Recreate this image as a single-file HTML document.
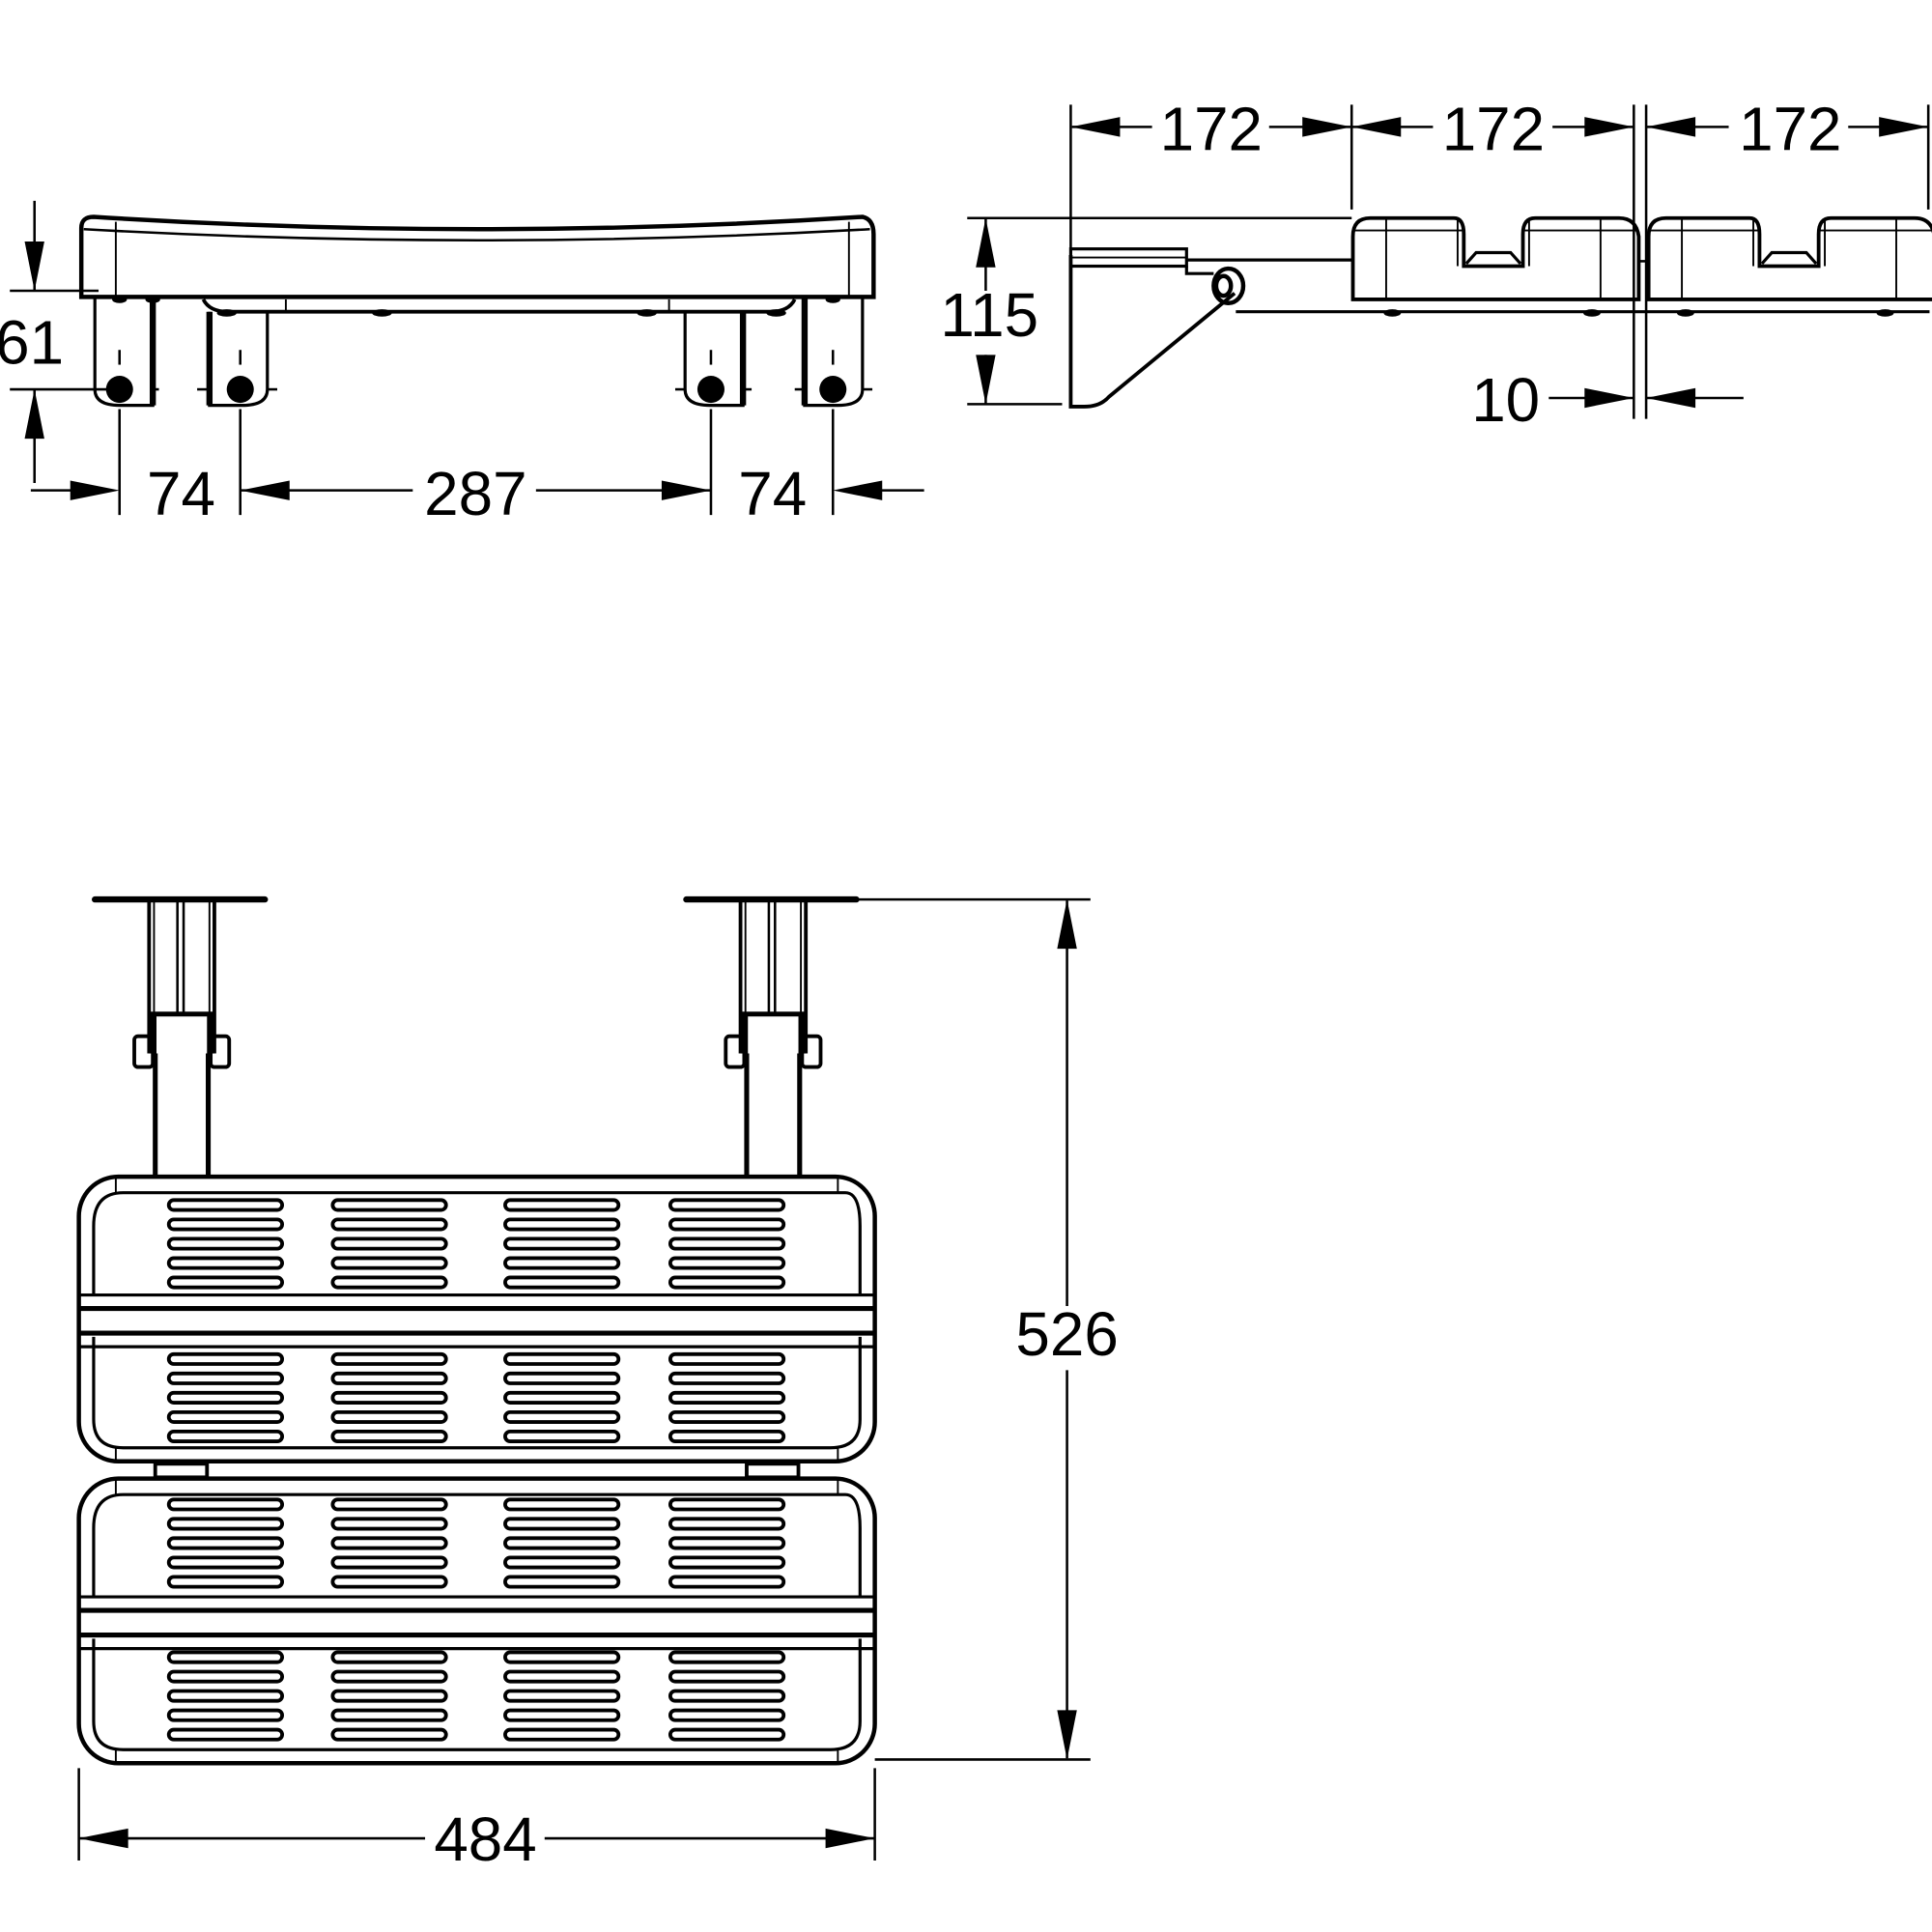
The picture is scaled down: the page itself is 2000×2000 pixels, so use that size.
<!DOCTYPE html>
<html><head><meta charset="utf-8"><style>
html,body{margin:0;padding:0;background:#fff}
svg{display:block}
text{font-family:"Liberation Sans",Arial,sans-serif;font-size:50px;fill:#000}
</style></head><body>
<svg width="2000" height="2000" viewBox="0 0 1568 1568" xmlns="http://www.w3.org/2000/svg">
<defs>
<g id="slots" fill="none" stroke="#000" stroke-width="3">
 <rect x="137" y="-4" width="92" height="8" rx="4"/>
 <rect x="270" y="-4" width="92" height="8" rx="4"/>
 <rect x="410" y="-4" width="92" height="8" rx="4"/>
 <rect x="544" y="-4" width="92" height="8" rx="4"/>
</g>
<g id="slat">
 <use href="#slots" y="0"/><use href="#slots" y="15.7"/><use href="#slots" y="31.4"/><use href="#slots" y="47.1"/><use href="#slots" y="62.8"/>
</g>
<g id="post" stroke="#000" fill="none">
 <line x1="77" y1="730" x2="215" y2="730" stroke-width="5" stroke-linecap="round"/>
 <line x1="121" y1="730" x2="121" y2="855" stroke-width="3"/>
 <line x1="174" y1="730" x2="174" y2="855" stroke-width="3"/>
 <line x1="125" y1="732" x2="125" y2="822" stroke-width="1.5"/>
 <line x1="170" y1="732" x2="170" y2="822" stroke-width="1.5"/>
 <line x1="144" y1="732" x2="144" y2="822" stroke-width="2"/>
 <line x1="149" y1="732" x2="149" y2="822" stroke-width="2"/>
 <line x1="121" y1="823" x2="174" y2="823" stroke-width="4"/>
 <rect x="121" y="823" width="6" height="32" fill="#000" stroke="none"/>
 <rect x="168" y="823" width="6" height="32" fill="#000" stroke="none"/>
 <line x1="126" y1="855" x2="126" y2="955" stroke-width="4"/>
 <line x1="169" y1="855" x2="169" y2="955" stroke-width="4"/>
 <rect x="109" y="841" width="15" height="25" rx="3" stroke-width="3"/>
 <rect x="171" y="841" width="15" height="25" rx="3" stroke-width="3"/>
</g>
<path id="ah" d="M0 0 L-40 -8 L-40 8 Z" fill="#000"/>
</defs>

<g stroke="#000" fill="none" stroke-linecap="butt">
<!-- ===== Top-left front view ===== -->
<path d="M66 185 Q66 176 76 176 Q390 196 700 176 Q709 178 709 190 L709 241 L66 241 Z" stroke-width="3.5"/>
<path d="M68 186 Q390 204 706 186" stroke-width="2"/>
<line x1="94" y1="180" x2="94" y2="241" stroke-width="1.5"/>
<line x1="689" y1="180" x2="689" y2="241" stroke-width="1.5"/>
<path d="M165 243 Q170 253 185 253 L625 253 Q640 253 645 243" stroke-width="3"/>
<line x1="232" y1="243" x2="232" y2="253" stroke-width="1.5"/>
<line x1="543" y1="243" x2="543" y2="253" stroke-width="1.5"/>
<g fill="#000" stroke="none">
<ellipse cx="97" cy="243" rx="6" ry="3"/><ellipse cx="124" cy="243" rx="6" ry="3"/>
<ellipse cx="184" cy="254" rx="8" ry="3"/><ellipse cx="310" cy="254" rx="8" ry="3"/>
<ellipse cx="525" cy="254" rx="8" ry="3"/><ellipse cx="630" cy="254" rx="8" ry="3"/>
<ellipse cx="676" cy="243" rx="6" ry="3"/>
</g>
<!-- legs -->
<path d="M77 241 L77 316 Q77 329 97 329 L124 329 L124 241" stroke-width="2.5"/>
<line x1="124" y1="241" x2="124" y2="329" stroke-width="5"/>
<path d="M217 253 L217 316 Q217 329 197 329 L170 329 L170 253" stroke-width="2.5"/>
<line x1="170" y1="253" x2="170" y2="329" stroke-width="5"/>
<path d="M556 253 L556 316 Q556 329 576 329 L603 329 L603 253" stroke-width="2.5"/>
<line x1="603" y1="253" x2="603" y2="329" stroke-width="5"/>
<path d="M700 241 L700 316 Q700 329 680 329 L653 329 L653 241" stroke-width="2.5"/>
<line x1="653" y1="241" x2="653" y2="329" stroke-width="5"/>
<g fill="#000" stroke="none">
<circle cx="97" cy="316" r="11"/><circle cx="195" cy="316" r="11"/><circle cx="577" cy="316" r="11"/><circle cx="676" cy="316" r="11"/>
</g>
<g stroke-width="2">
<line x1="97" y1="284" x2="97" y2="296"/><line x1="195" y1="284" x2="195" y2="296"/><line x1="577" y1="284" x2="577" y2="296"/><line x1="676" y1="284" x2="676" y2="296"/>
<line x1="124" y1="316" x2="129" y2="316"/><line x1="160" y1="316" x2="170" y2="316"/><line x1="217" y1="316" x2="225" y2="316"/>
<line x1="548" y1="316" x2="556" y2="316"/><line x1="603" y1="316" x2="610" y2="316"/><line x1="645" y1="316" x2="653" y2="316"/><line x1="700" y1="316" x2="708" y2="316"/>
</g>
<!-- 61 dim -->
<line x1="28" y1="163" x2="28" y2="236" stroke-width="2"/>
<line x1="8" y1="236" x2="80" y2="236" stroke-width="2"/>
<line x1="8" y1="316" x2="90" y2="316" stroke-width="2"/>
<line x1="28" y1="316" x2="28" y2="392" stroke-width="2"/>
<!-- bottom dims -->
<g stroke-width="2">
<line x1="97" y1="332" x2="97" y2="418"/><line x1="195" y1="332" x2="195" y2="418"/>
<line x1="577" y1="332" x2="577" y2="418"/><line x1="676" y1="332" x2="676" y2="418"/>
<line x1="25" y1="398" x2="60" y2="398"/>
<line x1="195" y1="398" x2="335" y2="398"/><line x1="435" y1="398" x2="577" y2="398"/>
<line x1="715" y1="398" x2="750" y2="398"/>
</g>

<!-- ===== Top-right side view ===== -->
<g stroke-width="2">
<line x1="869" y1="85" x2="869" y2="330"/>
<line x1="1097" y1="85" x2="1097" y2="170"/>
<line x1="1326" y1="85" x2="1326" y2="340"/>
<line x1="1336" y1="85" x2="1336" y2="340"/>
<line x1="1565" y1="85" x2="1565" y2="170"/>
<line x1="870" y1="103" x2="935" y2="103"/><line x1="1030" y1="103" x2="1097" y2="103"/>
<line x1="1097" y1="103" x2="1163" y2="103"/><line x1="1260" y1="103" x2="1326" y2="103"/>
<line x1="1336" y1="103" x2="1403" y2="103"/><line x1="1500" y1="103" x2="1565" y2="103"/>
<line x1="785" y1="177" x2="1097" y2="177"/>
<line x1="785" y1="328" x2="862" y2="328"/>
<line x1="800" y1="178" x2="800" y2="236"/><line x1="800" y1="288" x2="800" y2="328"/>
<line x1="1257" y1="323" x2="1326" y2="323"/><line x1="1336" y1="323" x2="1415" y2="323"/>
</g>
<!-- bracket -->
<path d="M869 207 L869 330 L880 330 Q893 330 900 322 L1002 238" stroke-width="3"/>
<rect x="869" y="202" width="94" height="14" stroke-width="2.5"/>
<line x1="869" y1="209" x2="963" y2="209" stroke-width="1.5"/>
<path d="M963 216 L963 222 L985 222" stroke-width="2.5"/>
<ellipse cx="997" cy="232" rx="12" ry="14" stroke-width="3.5"/>
<ellipse cx="993" cy="232" rx="6" ry="8" stroke-width="3.5"/>
<line x1="963" y1="211" x2="1097" y2="211" stroke-width="2.5"/>
<line x1="1003" y1="253" x2="1566" y2="253" stroke-width="2.5"/>
<!-- cushions -->
<g id="cush" stroke-width="3">
<path d="M1098 243 L1098 192 Q1098 177 1112 177 L1180 177 Q1188 177 1188 190 L1188 216 L1236 216 L1236 190 Q1236 177 1246 177 L1314 177 Q1328 177 1330 192 L1330 243 Z"/>
<line x1="1098" y1="187" x2="1188" y2="187" stroke-width="1.5"/>
<line x1="1236" y1="187" x2="1328" y2="187" stroke-width="1.5"/>
<line x1="1125" y1="177" x2="1125" y2="243" stroke-width="1.5"/>
<line x1="1299" y1="177" x2="1299" y2="243" stroke-width="1.5"/>
<line x1="1183" y1="177" x2="1183" y2="216" stroke-width="1.5"/>
<line x1="1241" y1="177" x2="1241" y2="216" stroke-width="1.5"/>
<path d="M1190 214 L1198 205 L1226 205 L1234 214" stroke-width="2.5"/>
</g>
<use href="#cush" x="240"/>
<line x1="1330" y1="212" x2="1338" y2="212" stroke-width="2"/>
<g fill="#000" stroke="none">
<ellipse cx="1130" cy="254" rx="7" ry="3"/><ellipse cx="1292" cy="254" rx="7" ry="3"/>
<ellipse cx="1368" cy="254" rx="7" ry="3"/><ellipse cx="1530" cy="254" rx="7" ry="3"/>
</g>

<!-- ===== Bottom top view ===== -->
<use href="#post"/>
<use href="#post" x="480"/>
<line x1="697" y1="730" x2="885" y2="730" stroke-width="2"/>
<line x1="710" y1="1428" x2="885" y2="1428" stroke-width="2"/>
<line x1="866" y1="1112" x2="866" y2="1427" stroke-width="2"/>
<line x1="866" y1="731" x2="866" y2="1060" stroke-width="2"/>
<line x1="64" y1="1435" x2="64" y2="1510" stroke-width="2"/>
<line x1="710" y1="1435" x2="710" y2="1510" stroke-width="2"/>
<line x1="64" y1="1492" x2="345" y2="1492" stroke-width="2"/>
<line x1="442" y1="1492" x2="710" y2="1492" stroke-width="2"/>

<!-- panel 1 -->
<g id="panel">
<rect x="64" y="955" width="646" height="231" rx="32" stroke-width="3.5"/>
<path d="M76 1052 L76 995 Q76 968 100 968 L686 968 Q698 968 698 995 L698 1052" stroke-width="2.5"/>
<path d="M76 1085 L76 1152 Q76 1175 100 1175 L674 1175 Q698 1175 698 1152 L698 1085" stroke-width="2.5"/>
<line x1="64" y1="1051" x2="710" y2="1051" stroke-width="2.5"/>
<line x1="64" y1="1062" x2="710" y2="1062" stroke-width="4"/>
<line x1="64" y1="1082" x2="710" y2="1082" stroke-width="4"/>
<line x1="64" y1="1093" x2="710" y2="1093" stroke-width="2.5"/>
<line x1="94" y1="956" x2="94" y2="968" stroke-width="1.5"/>
<line x1="680" y1="956" x2="680" y2="968" stroke-width="1.5"/>
<line x1="94" y1="1175" x2="94" y2="1186" stroke-width="1.5"/>
<line x1="680" y1="1175" x2="680" y2="1186" stroke-width="1.5"/>
</g>
<use href="#panel" y="245"/>
<rect x="126" y="1188" width="42" height="11" stroke-width="3"/>
<rect x="606" y="1188" width="42" height="11" stroke-width="3"/>
</g>
<use href="#slat" y="978"/>
<use href="#slat" y="1103"/>
<use href="#slat" y="1221"/>
<use href="#slat" y="1345"/>

<!-- arrowheads -->
<use href="#ah" transform="translate(28,236) rotate(90)"/>
<use href="#ah" transform="translate(28,316) rotate(-90)"/>
<use href="#ah" transform="translate(97,398)"/>
<use href="#ah" transform="translate(195,398) rotate(180)"/>
<use href="#ah" transform="translate(577,398)"/>
<use href="#ah" transform="translate(676,398) rotate(180)"/>
<use href="#ah" transform="translate(869,103) rotate(180)"/>
<use href="#ah" transform="translate(1097,103)"/>
<use href="#ah" transform="translate(1097,103) rotate(180)"/>
<use href="#ah" transform="translate(1326,103)"/>
<use href="#ah" transform="translate(1336,103) rotate(180)"/>
<use href="#ah" transform="translate(1565,103)"/>
<use href="#ah" transform="translate(800,177) rotate(-90)"/>
<use href="#ah" transform="translate(800,328) rotate(90)"/>
<use href="#ah" transform="translate(1326,323)"/>
<use href="#ah" transform="translate(1336,323) rotate(180)"/>
<use href="#ah" transform="translate(866,730) rotate(-90)"/>
<use href="#ah" transform="translate(866,1428) rotate(90)"/>
<use href="#ah" transform="translate(64,1492) rotate(180)"/>
<use href="#ah" transform="translate(710,1492)"/>

<!-- labels -->
<text x="24" y="295" text-anchor="middle">61</text>
<text x="147" y="418" text-anchor="middle">74</text>
<text x="386" y="418" text-anchor="middle">287</text>
<text x="627" y="418" text-anchor="middle">74</text>
<text x="983" y="122" text-anchor="middle">172</text>
<text x="1212" y="122" text-anchor="middle">172</text>
<text x="1453" y="122" text-anchor="middle">172</text>
<text x="803" y="273" text-anchor="middle">115</text>
<text x="1222" y="342" text-anchor="middle">10</text>
<text x="866" y="1100" text-anchor="middle">526</text>
<text x="394" y="1510" text-anchor="middle">484</text>
</svg>
</body></html>
